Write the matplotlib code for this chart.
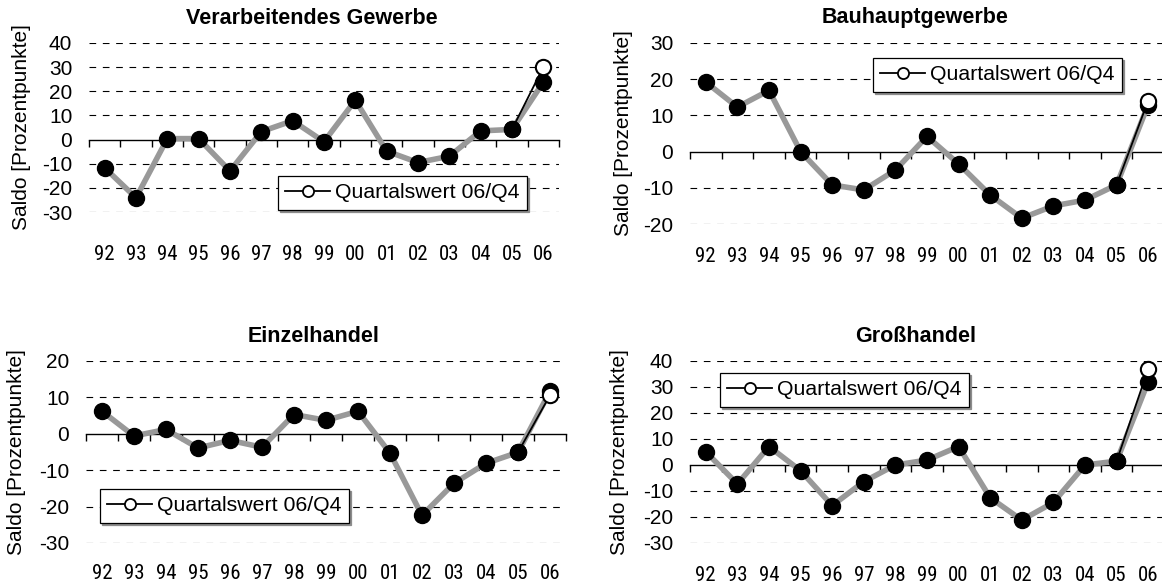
import numpy as np
import matplotlib
matplotlib.use("Agg")
import matplotlib.pyplot as plt
import matplotlib.transforms as mtransforms
from matplotlib import font_manager
from matplotlib.lines import Line2D

# Daten (Jahreswerte, letzter Punkt 06 = Jahreswert, dazu Quartalswert 06/Q4)
jahre = ['92', '93', '94', '95', '96', '97', '98', '99', '00', '01', '02', '03', '04', '05', '06']

verarb = [-11.7, -24.1, 0.4, 0.4, -13.0, 3.3, 7.8, -0.9, 16.3, -4.8, -9.5, -6.9, 3.6, 4.2, 23.8]
verarb_q4 = 30.0

bau = [19.2, 12.3, 16.9, 0.0, -9.2, -10.6, -5.1, 4.2, -3.4, -12.0, -18.4, -15.0, -13.4, -9.2, 13.0]
bau_q4 = 14.1

einzel = [6.2, -0.6, 1.2, -3.9, -1.8, -3.7, 5.3, 3.7, 6.2, -5.3, -22.4, -13.6, -8.1, -5.1, 11.7]
einzel_q4 = 10.6

gross = [5.1, -7.3, 7.1, -2.2, -15.6, -6.4, 0.0, 1.9, 7.1, -12.6, -21.2, -14.4, 0.0, 1.5, 32.0]
gross_q4 = 36.9

titel = ['Verarbeitendes Gewerbe', 'Bauhauptgewerbe', 'Einzelhandel', 'Großhandel']

fonts = font_manager.fontManager.ttflist
names = {f.name for f in fonts}
FONT = 'Liberation Sans' if 'Liberation Sans' in names else 'DejaVu Sans'

# schmale Schrift fuer die Jahreszahlen suchen
NARROW, STRETCH, XSIZE = FONT, 'normal', 13.5
for cand in ['Liberation Sans Narrow', 'Arial Narrow', 'Roboto Condensed', 'Open Sans Condensed',
             'Noto Sans Condensed', 'DejaVu Sans Condensed']:
    if cand in names:
        NARROW, XSIZE = cand, 15
        break
else:
    for f in fonts:
        if 'condensed' in str(f.stretch) and 'Sans' in f.name and 'Mono' not in f.name:
            NARROW, STRETCH, XSIZE = f.name, f.stretch, 15
            break

plt.rcParams['font.family'] = [FONT, 'DejaVu Sans']

W, H = 1162, 587
fig = plt.figure(figsize=(W / 100, H / 100), dpi=100)


def px_axes(l, r, t, b):
    return fig.add_axes([l / W, 1 - b / H, (r - l) / W, (b - t) / H])


def panel(ax, werte, q4, name, ylim, leg_pos, xlab_y, ylab_x):
    x = np.arange(len(werte))
    ax.set_xlim(-0.5, len(werte) - 0.5)
    ax.set_ylim(*ylim)
    yt = np.arange(ylim[0], ylim[1] + 1, 10)
    ax.set_yticks(yt)
    ax.set_yticklabels([str(v) for v in yt])
    for v in yt:
        if v != 0:
            ax.axhline(v, color='black', lw=0.8, ls=(0, (6, 6)), zorder=1)
    for s in ['top', 'right', 'left']:
        ax.spines[s].set_visible(False)
    ax.spines['bottom'].set_position(('data', 0))
    ax.spines['bottom'].set_linewidth(1.0)
    ax.set_xticks(np.arange(len(werte) + 1) - 0.5)
    ax.set_xticklabels([])
    ax.tick_params(axis='x', direction='out', length=5, width=1.0)
    ax.tick_params(axis='y', length=0, pad=12, labelsize=15)

    ax.plot(x, werte, color='#999999', lw=4, zorder=3, solid_capstyle='round')
    ax.plot(x, werte, ls='none', marker='o', ms=11.5, mfc='black', mec='black', zorder=4, clip_on=False)
    ax.plot([x[-2], x[-1]], [werte[-2], q4], color='black', lw=1.3, zorder=5,
            marker='o', markevery=[1], ms=11, mfc='white', mec='black', mew=1.5, clip_on=False)
    ax.plot([x[-2]], [werte[-2]], ls='none', marker='o', ms=11.5, mfc='black', mec='black', zorder=6, clip_on=False)

    trans = mtransforms.blended_transform_factory(ax.transData, ax.transAxes)
    for xi, lab in zip(x, jahre):
        ax.text(xi, xlab_y, lab, transform=trans, ha='center', va='center',
                fontsize=XSIZE, family=[NARROW, FONT], fontstretch=STRETCH)

    ax.text(0.475, 1 + 25 / (ax.bbox.height), name, transform=ax.transAxes,
            ha='center', va='center', fontsize=15.5, fontweight='bold')
    ax.text(ylab_x, 0.5, 'Saldo [Prozentpunkte]', transform=ax.transAxes, rotation=90,
            ha='center', va='center', fontsize=15)

    h = Line2D([], [], color='black', lw=1.3, marker='o', ms=8, mfc='white', mec='black', mew=1.3)
    leg = ax.legend([h], ['Quartalswert 06/Q4'], loc='upper left', bbox_to_anchor=leg_pos,
                    borderaxespad=0, fontsize=15.3, frameon=True, fancybox=False,
                    shadow={'color': '0.55', 'alpha': 1.0, 'ox': 1.5, 'oy': -1.5},
                    handlelength=2.1, handletextpad=0.25, borderpad=0.35)
    leg.get_frame().set_edgecolor('black')
    leg.get_frame().set_linewidth(0.9)
    leg.set_zorder(7)


ax1 = px_axes(89, 559, 43, 212)
panel(ax1, verarb, verarb_q4, titel[0], (-30, 40), (0.402, 0.213), -0.254, -0.143)

ax2 = px_axes(690, 1164, 43, 224)
panel(ax2, bau, bau_q4, titel[1], (-20, 30), (0.386, 0.917), -0.182, -0.141)

ax3 = px_axes(86, 566, 361, 543)
panel(ax3, einzel, einzel_q4, titel[2], (-30, 20), (0.029, 0.297), -0.170, -0.144)

ax4 = px_axes(690, 1164, 361, 543)
panel(ax4, gross, gross_q4, titel[3], (-30, 40), (0.063, 0.934), -0.176, -0.148)

fig.savefig('out.png', dpi=100)
